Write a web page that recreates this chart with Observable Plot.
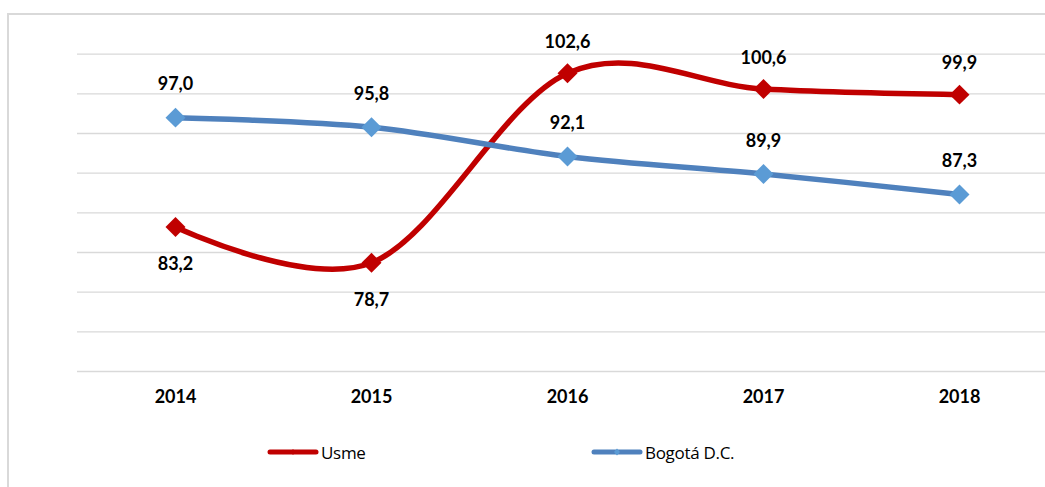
<!DOCTYPE html>
<html><head><meta charset="utf-8">
<script src="https://cdn.jsdelivr.net/npm/d3@7"></script>
<script src="https://cdn.jsdelivr.net/npm/@observablehq/plot@0.6"></script>
<style>
body{margin:0;background:#fff;font-family:Lato,"Open Sans",sans-serif}
#wrap{position:relative;width:1045px;height:487px;overflow:hidden;background:#fff}
#frame{position:absolute;left:7px;top:13px;width:1100px;height:600px;border-left:2px solid #d9d9d9;border-top:2px solid #d9d9d9}
#chart{position:absolute;left:0;top:0}
.leg{position:absolute;top:441px;height:22px;display:flex;align-items:center;font-size:17px;font-weight:400;color:#000;font-family:"Open Sans",Lato,sans-serif;letter-spacing:-0.3px}
.leg svg{margin-right:2px}
</style></head>
<body>
<div id="wrap"><div id="frame"></div><div id="chart"></div>
<div class="leg" style="left:267px"><svg width="52" height="12"><line x1="3" y1="6" x2="49" y2="6" stroke="#C00000" stroke-width="5" stroke-linecap="round"/><path d="M26 3 L28 6 L26 9 L24 6Z" fill="#C00000"/></svg>Usme</div>
<div class="leg" style="left:591px"><svg width="52" height="12"><line x1="3" y1="6" x2="49" y2="6" stroke="#4F81BD" stroke-width="5" stroke-linecap="round"/><path d="M26 2.5 L29 6 L26 9.5 L23 6Z" fill="#5B9BD5"/></svg>Bogotá D.C.</div>
</div>
<script>
const years = ["2014","2015","2016","2017","2018"];
const usme = [83.2, 78.7, 102.6, 100.6, 99.9];
const bogota = [97.0, 95.8, 92.1, 89.9, 87.3];
const gridValues = [65, 70, 75, 80, 85, 90, 95, 100, 105];

const usmeData = years.map((y, i) => ({year: y, value: usme[i], below: usme[i] < bogota[i]}));
const bogData = years.map((y, i) => ({year: y, value: bogota[i]}));
const fmt = v => v.toFixed(1).replace(".", ",");

const chart = Plot.plot({
  width: 1045, height: 420,
  marginLeft: 77, marginRight: 0, marginTop: 14, marginBottom: 49,
  style: {fontFamily: "Lato, 'Open Sans', sans-serif", background: "transparent"},
  x: {type: "point", domain: years, range: [77, 1057], padding: 0.5, label: null},
  y: {domain: [65, 110], axis: null},
  marks: [
    Plot.ruleY(gridValues, {stroke: "#d9d9d9", strokeWidth: 1.3}),
    Plot.line(usmeData, {x: "year", y: "value", stroke: "#C00000", strokeWidth: 5.5, curve: "cardinal"}),
    Plot.dot(usmeData, {x: "year", y: "value", symbol: "diamond2", r: 9, fill: "#C00000", stroke: null}),
    Plot.line(bogData, {x: "year", y: "value", stroke: "#4F81BD", strokeWidth: 5.5, curve: "cardinal"}),
    Plot.dot(bogData, {x: "year", y: "value", symbol: "diamond2", r: 9, fill: "#5B9BD5", stroke: null}),
    Plot.text(usmeData.filter(d => d.below), {x: "year", y: "value", text: d => fmt(d.value), dy: 37, fontSize: 18, fontWeight: "bold", fill: "#000"}),
    Plot.text(usmeData.filter(d => !d.below), {x: "year", y: "value", text: d => fmt(d.value), dy: -31, fontSize: 18, fontWeight: "bold", fill: "#000"}),
    Plot.text(bogData, {x: "year", y: "value", text: d => fmt(d.value), dy: -33, fontSize: 18, fontWeight: "bold", fill: "#000"}),
    Plot.axisX({tickSize: 0, tickPadding: 19, fontSize: 18, fontWeight: "bold", label: null, color: "#000"})
  ]
});
document.getElementById("chart").appendChild(chart);
</script>
</body></html>
